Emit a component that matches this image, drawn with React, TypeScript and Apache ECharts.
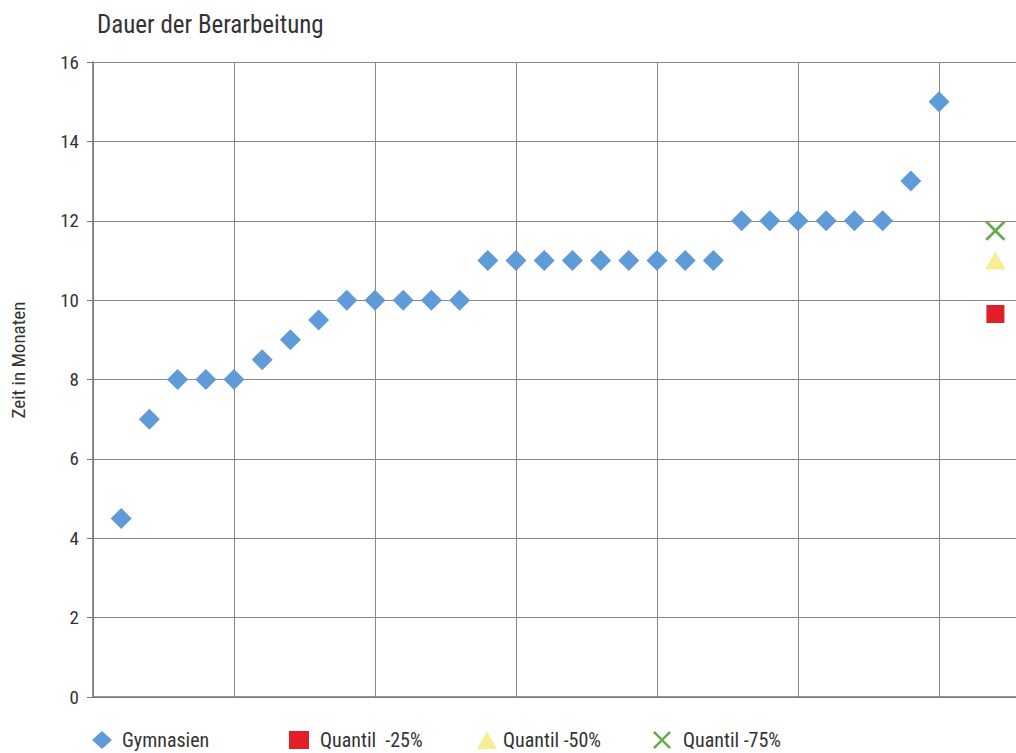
import React, { useEffect, useRef } from "react";
import * as echarts from "echarts";

const schoolIndex = [1, 2, 3, 4, 5, 6, 7, 8, 9, 10, 11, 12, 13, 14, 15, 16, 17, 18, 19, 20, 21, 22, 23, 24, 25, 26, 27, 28, 29, 30];
const schoolMonths = [4.5, 7, 8, 8, 8, 8.5, 9, 9.5, 10, 10, 10, 10, 10, 11, 11, 11, 11, 11, 11, 11, 11, 11, 12, 12, 12, 12, 12, 12, 13, 15];
const quantilePos = 32;
const q25 = 9.65;
const q50 = 11;
const q75 = 11.75;
const yTicks = [0, 2, 4, 6, 8, 10, 12, 14, 16];

const seriesNames = ["Gymnasien", "Quantil  -25%", "Quantil -50%", "Quantil -75%"];
const FONT = "'Liberation Sans Narrow', 'Roboto Condensed', 'Liberation Sans', sans-serif";
const CROSS = "path://M0,1L1,0L10,9L9,10Z M9,0L10,1L1,10L0,9Z";

export default function App() {
  const ref = useRef<HTMLDivElement>(null);
  useEffect(() => {
    if (!ref.current) return;
    const chart = echarts.init(ref.current, null, { renderer: "svg" });
    const legendItem = (left: number, pad: number, name: string, icon: string) => ({
      top: 725,
      left,
      itemWidth: 20,
      itemHeight: 18,
      textStyle: { fontFamily: FONT, fontSize: 20, color: "#333", padding: [0, 0, 0, pad] },
      selectedMode: false,
      data: [{ name, icon }],
    });
    chart.setOption({
      animation: false,
      backgroundColor: "#ffffff",
      title: {
        text: "Dauer der Berarbeitung",
        left: 92,
        top: 7,
        textStyle: { fontFamily: FONT, fontSize: 25, fontWeight: "normal", color: "#333" },
      },
      graphic: [
        {
          type: "text",
          x: 18,
          y: 360,
          rotation: Math.PI / 2,
          style: {
            text: "Zeit in Monaten",
            fontFamily: FONT,
            fontSize: 19,
            fill: "#333",
            align: "center",
            verticalAlign: "middle",
          },
        },
      ],
      grid: { left: 93, right: 20, top: 62, bottom: 56, outerBoundsMode: "none", containLabel: false },
      xAxis: {
        type: "value",
        min: 0,
        max: 35,
        interval: 5,
        axisLine: { show: true, onZero: false, lineStyle: { color: "#777", width: 1.5 } },
        axisTick: { show: false },
        axisLabel: { show: false },
        splitLine: { show: true, lineStyle: { color: "#888", width: 1 } },
      },
      yAxis: {
        type: "value",
        min: 0,
        max: 16,
        interval: 2,
        axisLine: { show: true, lineStyle: { color: "#777", width: 1.5 } },
        axisTick: { show: true, length: 6, lineStyle: { color: "#777" } },
        axisLabel: {
          fontFamily: FONT,
          fontSize: 19,
          color: "#333",
          margin: 14,
          formatter: (v: number) => (yTicks.includes(v) ? String(v) : ""),
        },
        splitLine: { show: true, lineStyle: { color: "#888", width: 1 } },
      },
      legend: [
        legendItem(87, 5, seriesNames[0], "diamond"),
        legendItem(284, 6, seriesNames[1], "rect"),
        legendItem(472, 1, seriesNames[2], "triangle"),
        legendItem(648, 6, seriesNames[3], CROSS),
      ],
      series: [
        {
          name: seriesNames[0],
          type: "scatter",
          symbol: "diamond",
          symbolSize: 21,
          itemStyle: { color: "#5f9ad9", opacity: 1 },
          data: schoolIndex.map((x, i) => [x, schoolMonths[i]]),
        },
        {
          name: seriesNames[1],
          type: "scatter",
          symbol: "rect",
          symbolSize: 18,
          itemStyle: { color: "#e21e26", opacity: 1 },
          data: [[quantilePos, q25]],
        },
        {
          name: seriesNames[2],
          type: "scatter",
          symbol: "triangle",
          symbolSize: [21, 18],
          itemStyle: { color: "#f6ee96", opacity: 1 },
          data: [[quantilePos, q50]],
        },
        {
          name: seriesNames[3],
          type: "scatter",
          symbol: CROSS,
          symbolSize: 20,
          itemStyle: { color: "#6aab4c", opacity: 1 },
          data: [[quantilePos, q75]],
        },
      ],
    });
    return () => chart.dispose();
  }, []);
  return (
    <div style={{ position: "fixed", left: 0, top: 0, width: 1016, height: 753, overflow: "hidden", background: "#fff" }}>
      <div ref={ref} style={{ width: 1100, height: 753 }} />
    </div>
  );
}
